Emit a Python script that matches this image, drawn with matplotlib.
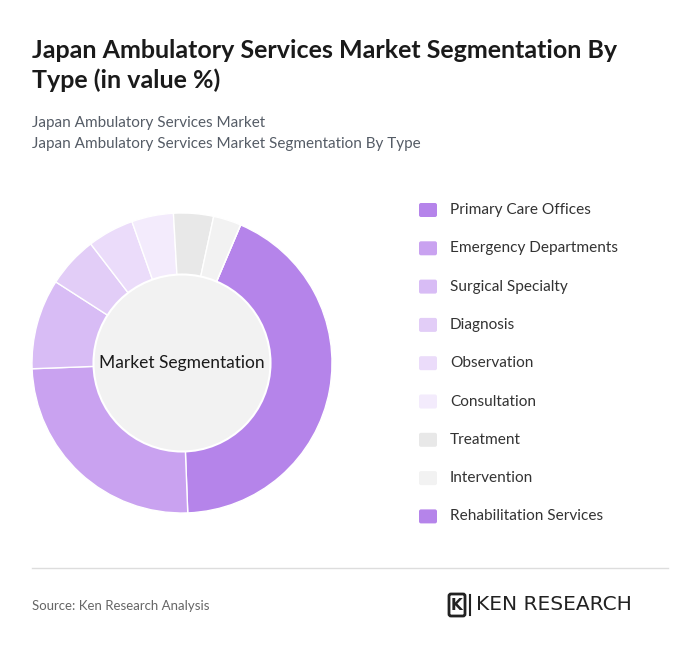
import matplotlib
matplotlib.use("Agg")
import matplotlib.pyplot as plt
from matplotlib.patches import FancyBboxPatch

# ── Data ──────────────────────────────────────────────────────────────────────
segments = ["Primary Care Offices", "Emergency Departments", "Surgical Specialty",
            "Diagnosis", "Observation", "Consultation", "Treatment",
            "Intervention", "Rehabilitation Services"]
shares = [43.0, 25.0, 9.7, 5.5, 5.0, 4.5, 4.3, 3.0, 0.0]
colors = ["#b584ea", "#c9a2f0", "#d8bcf5", "#e2cdf7", "#ebdcfa", "#f3ebfc",
          "#e8e8e8", "#f2f2f2", "#b584ea"]

W, H = 700, 653
fig = plt.figure(figsize=(W / 100, H / 100), dpi=100)
fig.patch.set_facecolor("white")


def px(x, y):
    return x / W, 1 - y / H


# ── Titles ────────────────────────────────────────────────────────────────────
fig.text(*px(32, 50), "Japan Ambulatory Services Market Segmentation By",
         fontsize=18, fontweight="bold", color="#1a1a1a", va="center", family="Lato")
fig.text(*px(32, 80), "Type (in value %)",
         fontsize=18, fontweight="bold", color="#1a1a1a", va="center", family="Lato")
fig.text(*px(32, 123), "Japan Ambulatory Services Market", fontsize=11,
         color="#555c66", va="center", family="Lato")
fig.text(*px(32, 144), "Japan Ambulatory Services Market Segmentation By Type",
         fontsize=11, color="#555c66", va="center", family="Lato")

# ── Donut ─────────────────────────────────────────────────────────────────────
cx, cy, r = 182, 363, 150
ax = fig.add_axes([(cx - r) / W, 1 - (cy + r) / H, 2 * r / W, 2 * r / H])
ax.pie(shares, colors=colors, startangle=67, counterclock=False,
       radius=1.0, wedgeprops=dict(width=1.0, edgecolor="white", linewidth=1))
ax.add_patch(plt.Circle((0, 0), 0.59, facecolor="#f2f2f2", edgecolor="white",
                        linewidth=1.5, zorder=5))
ax.text(0, 0, "Market Segmentation", ha="center", va="center", fontsize=12.5,
        color="#1a1a1a", zorder=6, family="Lato")
ax.set_xlim(-1, 1)
ax.set_ylim(-1, 1)
ax.set_aspect("equal")
ax.axis("off")

# ── Legend ────────────────────────────────────────────────────────────────────
lax = fig.add_axes([0, 0, 1, 1])
lax.set_xlim(0, W)
lax.set_ylim(H, 0)
lax.axis("off")
for i, (lbl, clr) in enumerate(zip(segments, colors)):
    y = 210 + i * 38.3
    lax.add_patch(FancyBboxPatch((419, y - 7), 18, 14, boxstyle="round,pad=0,rounding_size=2",
                                 facecolor=clr, edgecolor="none"))
    lax.text(450, y, lbl, fontsize=11.1, color="#333333", va="center", family="Lato")

# ── Footer ────────────────────────────────────────────────────────────────────
lax.plot([32, 668], [568, 568], color="#dddddd", lw=1)
lax.text(32, 606, "Source: Ken Research Analysis", fontsize=9.5, color="#666666",
         va="center", family="Lato")
lax.add_patch(FancyBboxPatch((449, 594), 16, 22, boxstyle="round,pad=0,rounding_size=2",
                             facecolor="white", edgecolor="#222222", linewidth=2))
lax.text(457, 605, "K", fontsize=11, fontweight="bold", color="#222222",
         ha="center", va="center")
lax.plot([470, 470], [595, 615], color="#222222", lw=1.5)
lax.text(476, 605, "KEN RESEARCH", fontsize=14.5, color="#222222",
         va="center", family="DejaVu Sans")

fig.savefig("out.png", dpi=100, facecolor="white")
